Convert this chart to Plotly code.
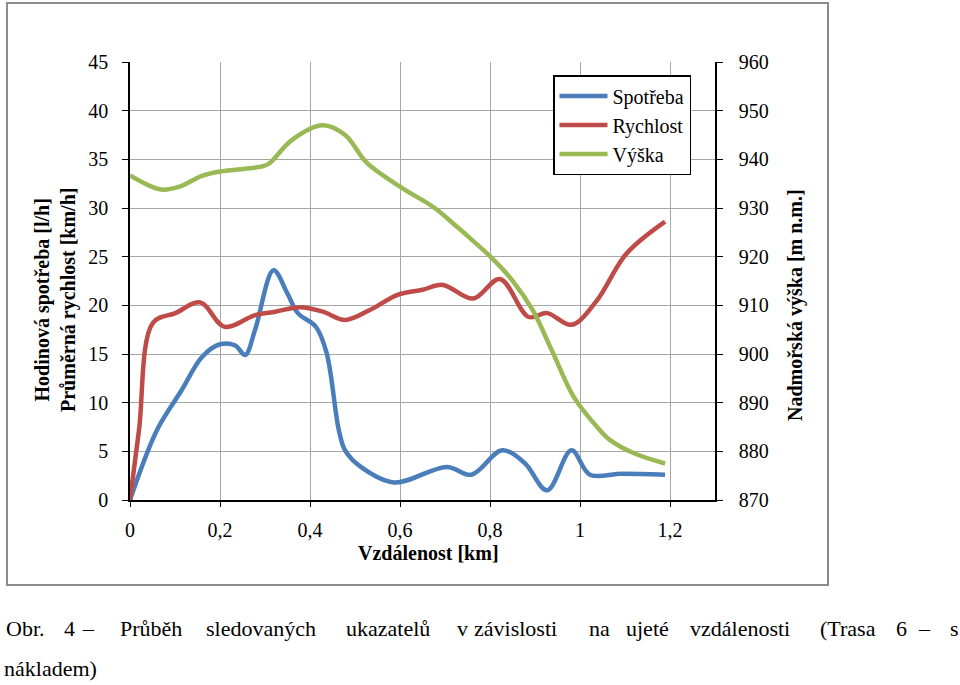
import plotly.graph_objects as go

# --- data ---
x_spotreba = [0.0, 0.06, 0.115, 0.16, 0.2, 0.233, 0.256, 0.278, 0.319, 0.35, 0.373, 0.413, 0.437,
              0.464, 0.478, 0.513, 0.587, 0.704, 0.759, 0.827, 0.877, 0.927, 0.981, 1.022, 1.093, 1.189]
y_spotreba = [0.0, 7.2, 11.3, 14.7, 16.0, 15.9, 14.9, 17.5, 23.6, 21.2, 19.2, 17.8, 15.1,
              7.2, 5.1, 3.4, 1.8, 3.4, 2.6, 5.1, 3.8, 1.0, 5.1, 2.6, 2.7, 2.6]

x_rychlost = [0.0, 0.02, 0.051, 0.101, 0.156, 0.21, 0.278, 0.323, 0.378, 0.428, 0.478, 0.532,
              0.596, 0.65, 0.695, 0.763, 0.822, 0.886, 0.927, 0.981, 1.036, 1.103, 1.189]
y_rychlost = [0.0, 7.2, 18.2, 19.2, 20.3, 17.8, 19.0, 19.35, 19.8, 19.35, 18.5, 19.5,
              21.1, 21.6, 22.1, 20.7, 22.7, 18.8, 19.2, 18.0, 20.4, 25.3, 28.6]

x_vyska = [0.0, 0.069, 0.11, 0.16, 0.2, 0.296, 0.31, 0.36, 0.428, 0.478, 0.527, 0.605, 0.677,
           0.722, 0.763, 0.801, 0.849, 0.895, 0.94, 0.986, 1.04, 1.067, 1.12, 1.189]
y_vyska = [936.7, 933.8, 934.4, 936.6, 937.5, 938.6, 939.2, 944.0, 947.0, 945.0, 939.2, 934.1, 930.0,
           926.5, 923.2, 920.0, 915.2, 909.0, 900.2, 891.2, 884.8, 882.3, 879.6, 877.5]

series_names = ["Spotřeba", "Rychlost", "Výška"]
series_colors = ["#4A7EBB", "#BE4B48", "#98B954"]

x_ticks = [0, 0.2, 0.4, 0.6, 0.8, 1.0, 1.2]
x_tick_labels = ["0", "0,2", "0,4", "0,6", "0,8", "1", "1,2"]

caption_line1 = ["Obr.", "4", "–", "Průběh", "sledovaných", "ukazatelů", "v", "závislosti",
                 "na", "ujeté", "vzdálenosti", "(Trasa", "6", "–", "s"]
caption_line1_x = [5, 63, 81, 119, 205, 345, 456, 473, 588, 625, 689, 819, 895, 917, 949]
caption_line2 = "nákladem)"

FONT = "Liberation Serif"
W, H = 960, 685
L, R, T, B = 130, 245, 62, 185
PW, PH = W - L - R, H - T - B


def px_to_paper_x(px):
    return (px - L) / PW


def px_to_paper_y(py):
    return (H - B - py) / PH


fig = go.Figure()
for name, xs, ys, col, ax in [
    (series_names[0], x_spotreba, y_spotreba, series_colors[0], "y"),
    (series_names[1], x_rychlost, y_rychlost, series_colors[1], "y"),
    (series_names[2], x_vyska, y_vyska, series_colors[2], "y2"),
]:
    fig.add_trace(go.Scatter(x=xs, y=ys, name=name, mode="lines", yaxis=ax,
                             line=dict(color=col, width=4.5, shape="spline", smoothing=1.0)))

fig.update_layout(
    width=W, height=H,
    margin=dict(l=L, r=R, t=T, b=B, pad=0),
    paper_bgcolor="white", plot_bgcolor="white",
    font=dict(family=FONT, size=20, color="black"),
    showlegend=True,
    legend=dict(x=px_to_paper_x(553), y=px_to_paper_y(125), xanchor="left", yanchor="middle",
                bgcolor="white", bordercolor="black", borderwidth=1.5,
                font=dict(family=FONT, size=20, color="black"), tracegroupgap=0,
                itemwidth=48),
    xaxis=dict(range=[0, 1.3], tickvals=x_ticks, ticktext=x_tick_labels,
               showgrid=True, gridcolor="#A6A6A6", gridwidth=1,
               showline=True, linecolor="black", linewidth=1.5,
               ticks="outside", ticklen=5, tickcolor="black", zeroline=False,
               ticklabelstandoff=6, tickfont=dict(family=FONT, size=20)),
    yaxis=dict(range=[0, 45], dtick=5, showgrid=True, gridcolor="#A6A6A6", gridwidth=1,
               showline=True, linecolor="black", linewidth=1.5,
               ticks="outside", ticklen=6, tickcolor="black", zeroline=False,
               ticklabelstandoff=10, tickfont=dict(family=FONT, size=20)),
    yaxis2=dict(range=[870, 960], dtick=10, overlaying="y", side="right", showgrid=False,
                showline=True, linecolor="black", linewidth=1.5,
                ticks="outside", ticklen=6, tickcolor="black", zeroline=False,
                ticklabelstandoff=12, tickfont=dict(family=FONT, size=20)),
)

# chart-area border
fig.add_shape(type="rect", xref="paper", yref="paper",
              x0=px_to_paper_x(7), x1=px_to_paper_x(828),
              y0=px_to_paper_y(585), y1=px_to_paper_y(3),
              line=dict(color="#8C8C8C", width=2), fillcolor="rgba(0,0,0,0)", layer="below")

# axis titles
fig.add_annotation(text="<b>Hodinová spotřeba [l/h]</b><br><b>Průměrná rychlost [km/h]</b>",
                   xref="paper", yref="paper", x=px_to_paper_x(55), y=px_to_paper_y(300),
                   textangle=-90, showarrow=False, xanchor="center", yanchor="middle",
                   font=dict(family=FONT, size=20), align="center")
fig.add_annotation(text="<b>Nadmořská výška [m n.m.]</b>",
                   xref="paper", yref="paper", x=px_to_paper_x(795), y=px_to_paper_y(305),
                   textangle=-90, showarrow=False, xanchor="center", yanchor="middle",
                   font=dict(family=FONT, size=20))
fig.add_annotation(text="<b>Vzdálenost [km]</b>",
                   xref="paper", yref="paper", x=px_to_paper_x(428), y=px_to_paper_y(553),
                   showarrow=False, xanchor="center", yanchor="middle",
                   font=dict(family=FONT, size=20))

# caption (justified first line)
for word, wx in zip(caption_line1, caption_line1_x):
    fig.add_annotation(text=word, xref="paper", yref="paper",
                       x=px_to_paper_x(wx), y=px_to_paper_y(628),
                       showarrow=False, xanchor="left", yanchor="middle",
                       font=dict(family=FONT, size=22), borderpad=0)
fig.add_annotation(text=caption_line2, xref="paper", yref="paper",
                   x=px_to_paper_x(3), y=px_to_paper_y(668),
                   showarrow=False, xanchor="left", yanchor="middle",
                   font=dict(family=FONT, size=22), borderpad=0)

fig.write_html("out.html")
